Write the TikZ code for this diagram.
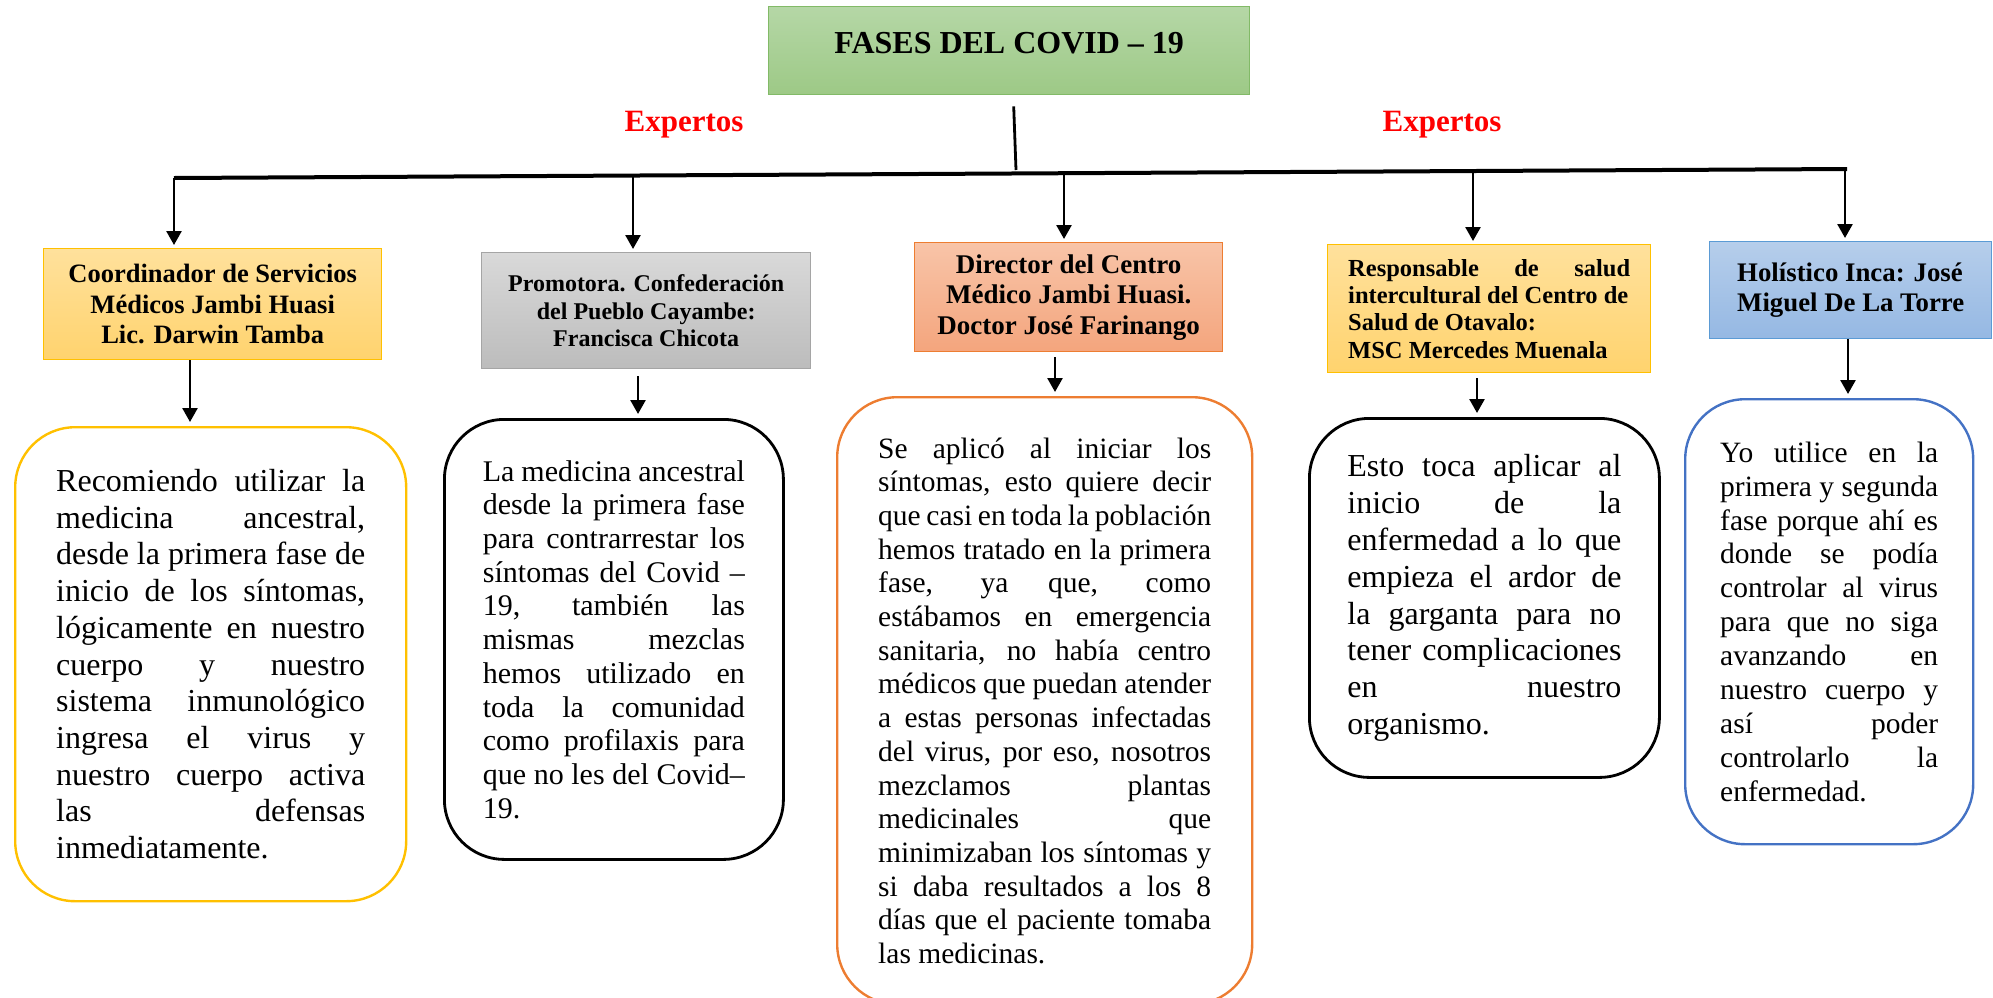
\documentclass[tikz,border=0pt]{standalone}
\usepackage{fontspec}
\setmainfont{Liberation Serif}
\usetikzlibrary{arrows.meta}

\definecolor{titletop}{HTML}{B5D7A6}
\definecolor{titlebot}{HTML}{9DC986}
\definecolor{titleline}{HTML}{82BA67}
\definecolor{goldtop}{HTML}{FFE19C}
\definecolor{goldbot}{HTML}{FFD36E}
\definecolor{goldline}{HTML}{FFC000}
\definecolor{greytop}{HTML}{D9D9D9}
\definecolor{greybot}{HTML}{BCBCBC}
\definecolor{greyline}{HTML}{A5A5A5}
\definecolor{salmtop}{HTML}{F8C4A8}
\definecolor{salmbot}{HTML}{F4A57D}
\definecolor{orangeline}{HTML}{ED7D31}
\definecolor{bluetop}{HTML}{B6CEEB}
\definecolor{bluebot}{HTML}{95B8E3}
\definecolor{blueline}{HTML}{5B9BD5}
\definecolor{roundblue}{HTML}{4472C4}

% one justified line of a box
\newcommand{\jl}[1]{\makebox[\jw][s]{#1}}

\tikzset{
  linew/.code={\def\jw{#1}},
  headbox/.style={draw, line width=0.7pt, inner sep=0pt, anchor=north west, align=center},
  roundbox/.style={draw, line width=1.2pt, rounded corners=30pt, inner sep=0pt, anchor=north west, align=left},
  arr/.style={line width=1.3pt, -{Triangle[length=7pt,width=7.5pt]}},
  expert/.style={text=red, font=\bfseries\fontsize{15.5pt}{18pt}\selectfont}
}

\begin{document}
\begin{tikzpicture}[x=0.5pt,y=-0.5pt]
	\useasboundingbox (0,0) rectangle (1993,997);
	\clip (0,0) rectangle (1993,997);
	
	% title and experts
	\node[headbox, draw=titleline, top color=titletop, bottom color=titlebot, minimum width=240.5pt, text height=23.5pt, text depth=20.5pt, font=\bfseries\fontsize{16pt}{19pt}\selectfont] (title) at (768,6) {FASES DEL COVID – 19};
	\node[expert] (exp1) at (684,125) {Expertos};
	\node[expert] (exp2) at (1442,125) {Expertos};
	
	% heads
	\node[headbox, draw=goldline, top color=goldtop, bottom color=goldbot, minimum width=169pt, minimum height=55.5pt, font=\bfseries\fontsize{13.25pt}{15.25pt}\selectfont] (b1) at (43,248) {Coordinador de Servicios\\Médicos Jambi Huasi\\Lic. Darwin Tamba};
	\node[headbox, draw=greyline, top color=greytop, bottom color=greybot, minimum width=164.5pt, minimum height=58pt, font=\bfseries\fontsize{12pt}{13.75pt}\selectfont] (b2) at (481,252) {Promotora. Confederación\\del Pueblo Cayambe:\\Francisca Chicota};
	\node[headbox, draw=orangeline, top color=salmtop, bottom color=salmbot, minimum width=154pt, minimum height=54.5pt, font=\bfseries\fontsize{13.5pt}{15.25pt}\selectfont] (b3) at (914,242) {Director del Centro\\Médico Jambi Huasi.\\Doctor José Farinango};
	\node[headbox, draw=goldline, top color=goldtop, bottom color=goldbot, minimum width=161.5pt, minimum height=64pt, align=left, linew=141pt, font=\bfseries\fontsize{12.25pt}{13.65pt}\selectfont] (b4) at (1327,244) {\jl{Responsable de salud}\\intercultural del Centro de\\Salud de Otavalo:\\MSC Mercedes Muenala};
	\node[headbox, draw=blueline, top color=bluetop, bottom color=bluebot, minimum width=141pt, minimum height=48.5pt, align=left, font=\bfseries\fontsize{13.4pt}{15pt}\selectfont] (b5) at (1709,241) {Holístico Inca: José\\Miguel De La Torre};
	
	% answers
	\node[roundbox, draw=goldline, minimum width=195.5pt, minimum height=237pt, linew=154.5pt, font=\fontsize{16pt}{18.35pt}\selectfont] (r1) at (14,426) {%
		\jl{Recomiendo utilizar la}\\
		\jl{medicina ancestral,}\\
		\jl{desde la primera fase de}\\
		\jl{inicio de los síntomas,}\\
		\jl{lógicamente en nuestro}\\
		\jl{cuerpo y nuestro}\\
		\jl{sistema inmunológico}\\
		\jl{ingresa el virus y}\\
		\jl{nuestro cuerpo activa}\\
		\jl{las defensas}\\
		inmediatamente.};
	\node[roundbox, minimum width=169.5pt, minimum height=220pt, line width=1.4pt, linew=131pt, font=\fontsize{15pt}{16.85pt}\selectfont] (r2) at (443,418) {%
		\jl{La medicina ancestral}\\
		\jl{desde la primera fase}\\
		\jl{para contrarrestar los}\\
		\jl{síntomas del Covid –}\\
		\jl{19, también las}\\
		\jl{mismas mezclas}\\
		\jl{hemos utilizado en}\\
		\jl{toda la comunidad}\\
		\jl{como profilaxis para}\\
		\jl{que no les del Covid–}\\
		19.};
	\node[roundbox, draw=orangeline, minimum width=207.5pt, minimum height=303.5pt, linew=166.5pt, font=\fontsize{14.75pt}{16.85pt}\selectfont] (r3) at (836,396) {%
		\jl{Se aplicó al iniciar los}\\
		\jl{síntomas, esto quiere decir}\\
		\jl{que casi en toda la población}\\
		\jl{hemos tratado en la primera}\\
		\jl{fase, ya que, como}\\
		\jl{estábamos en emergencia}\\
		\jl{sanitaria, no había centro}\\
		\jl{médicos que puedan atender}\\
		\jl{a estas personas infectadas}\\
		\jl{del virus, por eso, nosotros}\\
		\jl{mezclamos plantas}\\
		\jl{medicinales que}\\
		\jl{minimizaban los síntomas y}\\
		\jl{si daba resultados a los 8}\\
		\jl{días que el paciente tomaba}\\
		las medicinas.};
	\node[roundbox, minimum width=175pt, minimum height=179.5pt, line width=1.4pt, linew=137pt, font=\fontsize{16pt}{18.45pt}\selectfont] (r4) at (1308,417) {%
		\jl{Esto toca aplicar al}\\
		\jl{inicio de la}\\
		\jl{enfermedad a lo que}\\
		\jl{empieza el ardor de}\\
		\jl{la garganta para no}\\
		\jl{tener complicaciones}\\
		\jl{en nuestro}\\
		organismo.};
	\node[roundbox, draw=roundblue, minimum width=144pt, minimum height=222.5pt, linew=109pt, font=\fontsize{14.75pt}{16.95pt}\selectfont] (r5) at (1684,398) {%
		\jl{Yo utilice en la}\\
		\jl{primera y segunda}\\
		\jl{fase porque ahí es}\\
		\jl{donde se podía}\\
		\jl{controlar al virus}\\
		\jl{para que no siga}\\
		\jl{avanzando en}\\
		\jl{nuestro cuerpo y}\\
		\jl{así poder}\\
		\jl{controlarlo la}\\
		enfermedad.};
	
	% bus
	\coordinate (busL) at (174,178);
	\coordinate (busR) at (1847,169);
	\coordinate (stemend) at (1016,170);
	\draw[line width=1.4pt] ([xshift=2.25pt,yshift=-5.5pt]title.south) -- (stemend);
	\draw[line width=2pt] (busL) -- (busR);
	\coordinate (j1) at (174,178);
	\coordinate (j2) at (633,175.5);
	\coordinate (j3) at (1064,173.2);
	\coordinate (j4) at (1473,171);
	\coordinate (j5) at (1845,169);
	\foreach \i in {1,...,5}
		\draw[arr, shorten >=1.5pt] (j\i) -- (j\i |- b\i.north);
	
	% heads to answers
	\foreach \i/\x/\g in {1/190/0,2/638/3.5,3/1055/2.5,4/1477/2.5,5/1848/0}
		\draw[arr, shorten <=\g pt, shorten >=2pt] (b\i.south -| \x,0) -- (r\i.north -| \x,0);
\end{tikzpicture}
\end{document}
